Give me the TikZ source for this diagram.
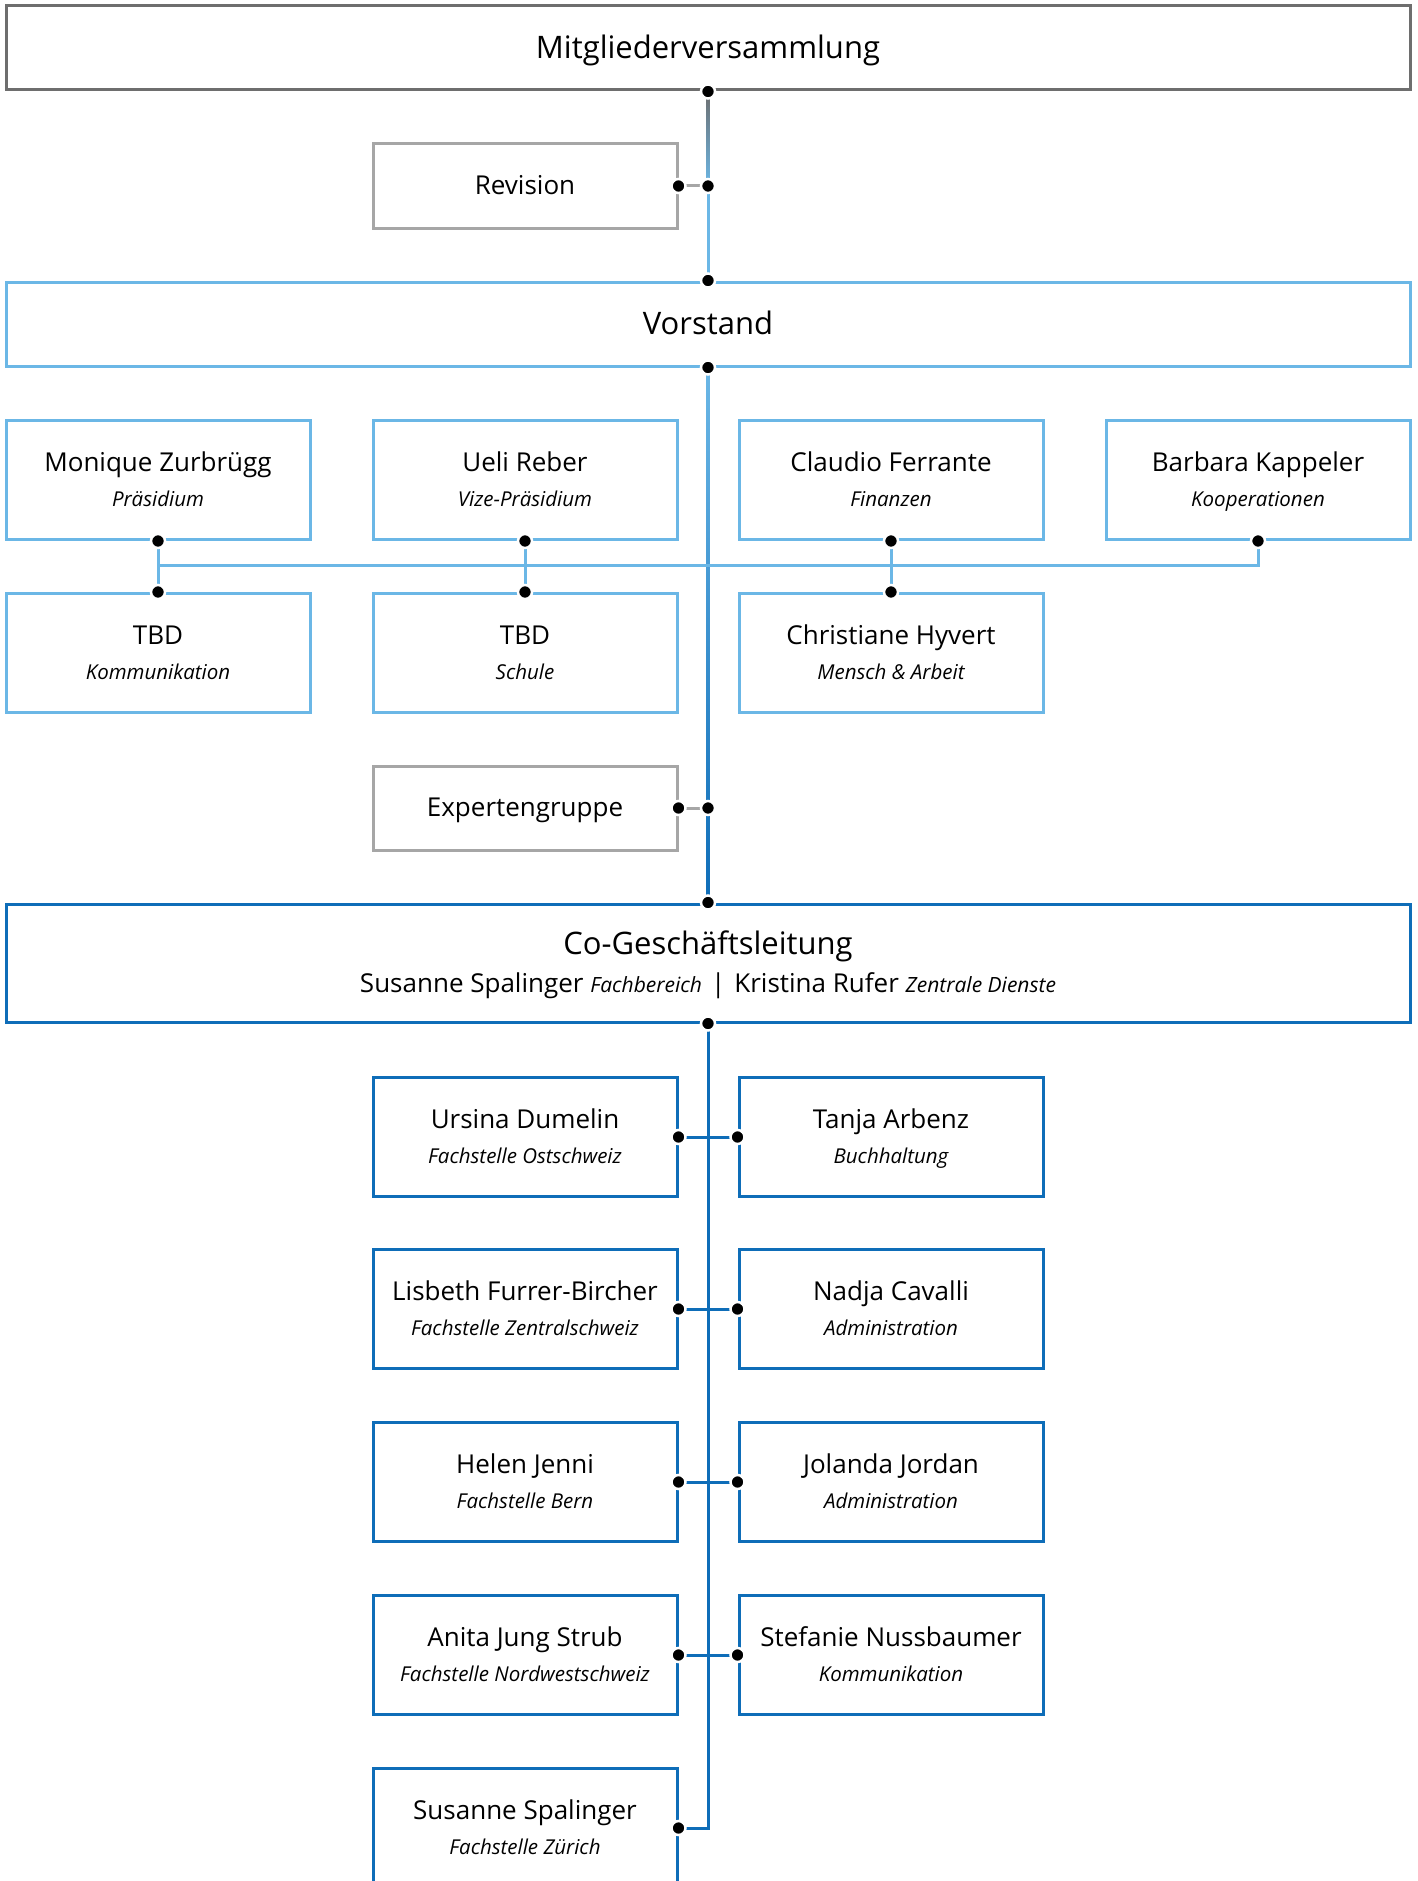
\documentclass[tikz,border=0pt]{standalone}
\usepackage{fontspec}
\setmainfont{Open Sans}
\usetikzlibrary{calc}

\definecolor{mvgray}{HTML}{6E6E6E}
\definecolor{sidegray}{HTML}{A6A6A6}
\definecolor{lightblue}{HTML}{6BB7E6}
\definecolor{darkblue}{HTML}{0E6DB8}

\newcommand{\role}[1]{{\fontsize{20.5}{34}\selectfont\itshape #1\vphantom{Äg}}}
\newcommand{\glrole}[1]{{\fontsize{21}{34}\selectfont\itshape #1}}
\newcommand{\person}[2]{#1\vphantom{Äg}\\\role{#2}}

\begin{document}
\begin{tikzpicture}[x=1pt,y=-1pt]
\tikzstyle{every node}+=[inner sep=0pt]
\tikzstyle{box}=[rectangle, draw, line width=3pt, minimum width=304pt, minimum height=119pt, align=center, font=\fontsize{26}{35}\selectfont]
\tikzstyle{widebox}=[box, minimum width=1404pt, minimum height=84pt, font=\fontsize{31}{38}\selectfont]
\tikzstyle{sidebox}=[box, draw=sidegray, minimum height=84pt]
\tikzstyle{dot}=[circle, fill=black, draw=white, line width=2.5pt, minimum size=14pt]
\tikzstyle{link}=[line width=3pt]
\useasboundingbox (0,0) rectangle (1418,1881);
\node [widebox, draw=mvgray] (mv) at (708,48) {Mitgliederversammlung\vphantom{Äg}};
\node [sidebox] (rev) at (525,186) {Revision\vphantom{Äg}};
\node [widebox, draw=lightblue] (vs) at (708,324) {Vorstand\vphantom{Äg}};
\node [box, draw=lightblue] (zur) at (158,480) {\person{Monique Zurbrügg}{Präsidium}};
\node [box, draw=lightblue] (reb) at (525,480) {\person{Ueli Reber}{Vize-Präsidium}};
\node [box, draw=lightblue] (fer) at (891,480) {\person{Claudio Ferrante}{Finanzen}};
\node [box, draw=lightblue] (kap) at (1258,480) {\person{Barbara Kappeler}{Kooperationen}};
\node [box, draw=lightblue] (kom) at (158,653) {\person{TBD}{Kommunikation}};
\node [box, draw=lightblue] (sch) at (525,653) {\person{TBD}{Schule}};
\node [box, draw=lightblue] (hyv) at (891,653) {\person{Christiane Hyvert}{Mensch \& Arbeit}};
\node [sidebox] (exp) at (525,808) {Expertengruppe\vphantom{Äg}};
\node [widebox, draw=darkblue, minimum height=118pt] (gl) at (708,963) {Co-Geschäftsleitung\vphantom{Äg}\\{\fontsize{26}{34}\selectfont Susanne Spalinger \glrole{Fachbereich}\hspace{9pt}|\hspace{9pt}Kristina Rufer \glrole{Zentrale Dienste}}};
\node [box, draw=darkblue] (dum) at (525,1137) {\person{Ursina Dumelin}{Fachstelle Ostschweiz}};
\node [box, draw=darkblue] (arb) at (891,1137) {\person{Tanja Arbenz}{Buchhaltung}};
\node [box, draw=darkblue] (fur) at (525,1309) {\person{Lisbeth Furrer-Bircher}{Fachstelle Zentralschweiz}};
\node [box, draw=darkblue] (cav) at (891,1309) {\person{Nadja Cavalli}{Administration}};
\node [box, draw=darkblue] (jen) at (525,1482) {\person{Helen Jenni}{Fachstelle Bern}};
\node [box, draw=darkblue] (jor) at (891,1482) {\person{Jolanda Jordan}{Administration}};
\node [box, draw=darkblue] (jun) at (525,1655) {\person{Anita Jung Strub}{Fachstelle Nordwestschweiz}};
\node [box, draw=darkblue] (nus) at (891,1655) {\person{Stefanie Nussbaumer}{Kommunikation}};
\node [box, draw=darkblue] (spa) at (525,1828) {\person{Susanne Spalinger}{Fachstelle Zürich}};
\coordinate (rj) at (mv.south |- rev.east);
\coordinate (ej) at (mv.south |- exp.east);
\coordinate (bus) at (0,565);
\shade [top color=mvgray, bottom color=lightblue] ($(mv.south)+(-1.5,0)$) rectangle ($(rj)+(1.5,0)$);
\draw [link, lightblue] (rj) -- (vs.north);
\shade [top color=lightblue, bottom color=darkblue] ($(vs.south)+(-1.5,0)$) rectangle ($(gl.north)+(1.5,0)$);
\draw [link, sidegray] (rev.east) -- (rj);
\draw [link, sidegray] (exp.east) -- (ej);
\draw [link, lightblue] (zur.south |- bus) -- (kap.south |- bus) -- (kap.south);
\draw [link, lightblue] (zur.south) -- (kom.north);
\draw [link, lightblue] (reb.south) -- (sch.north);
\draw [link, lightblue] (fer.south) -- (hyv.north);
\draw [link, darkblue] (gl.south) |- (spa.east);
\draw [link, darkblue] (dum.east) -- (arb.west);
\draw [link, darkblue] (fur.east) -- (cav.west);
\draw [link, darkblue] (jen.east) -- (jor.west);
\draw [link, darkblue] (jun.east) -- (nus.west);
\node [dot] (d1) at (mv.south) {};
\node [dot] (d2) at (rj) {};
\node [dot] (d3) at (rev.east) {};
\node [dot] (d4) at (vs.north) {};
\node [dot] (d5) at (vs.south) {};
\node [dot] (d6) at (zur.south) {};
\node [dot] (d7) at (reb.south) {};
\node [dot] (d8) at (fer.south) {};
\node [dot] (d9) at (kap.south) {};
\node [dot] (d10) at (kom.north) {};
\node [dot] (d11) at (sch.north) {};
\node [dot] (d12) at (hyv.north) {};
\node [dot] (d13) at (exp.east) {};
\node [dot] (d14) at (ej) {};
\node [dot] (d15) at (gl.north) {};
\node [dot] (d16) at (gl.south) {};
\node [dot] (d17) at (dum.east) {};
\node [dot] (d18) at (arb.west) {};
\node [dot] (d19) at (fur.east) {};
\node [dot] (d20) at (cav.west) {};
\node [dot] (d21) at (jen.east) {};
\node [dot] (d22) at (jor.west) {};
\node [dot] (d23) at (jun.east) {};
\node [dot] (d24) at (nus.west) {};
\node [dot] (d25) at (spa.east) {};
\end{tikzpicture}
\end{document}
